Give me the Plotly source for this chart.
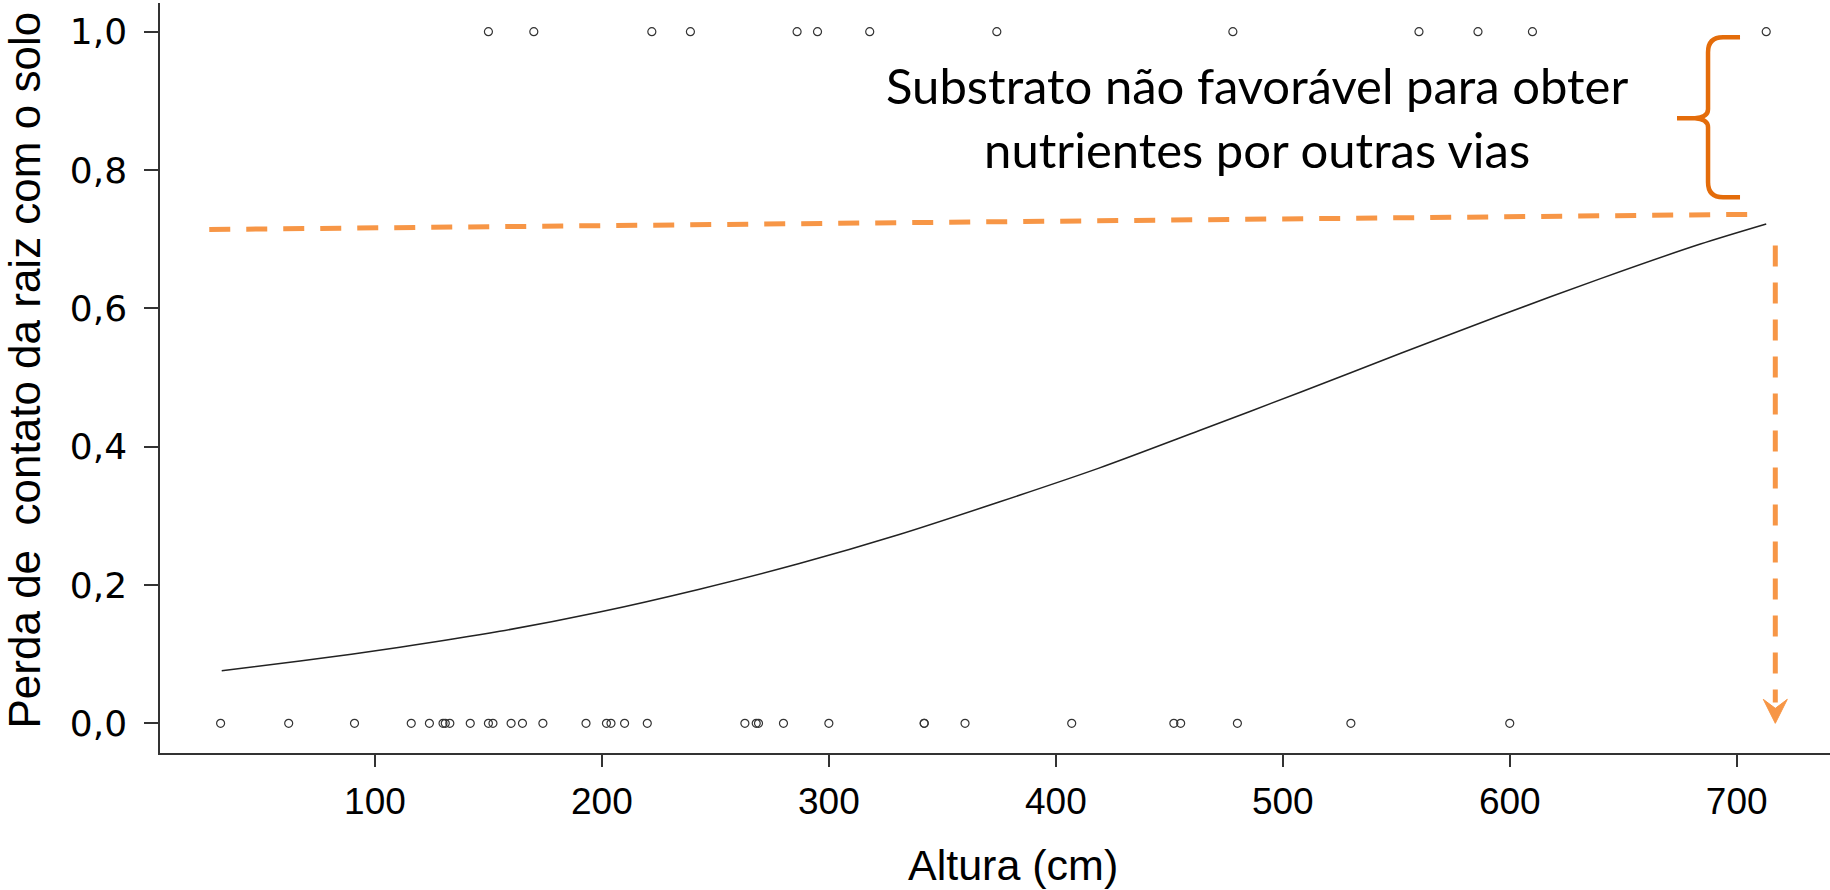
import plotly.graph_objects as go

# Heights (cm) of plants that lost root contact with the soil (1) and kept it (0)
altura_perda = [150, 170, 222, 239, 286, 295, 318, 374, 478, 560, 586, 610, 713]
altura_contato = [32, 62, 91, 116, 124, 130, 131, 133, 142, 150, 152, 160, 165, 174,
                  193, 202, 204, 210, 220, 263, 268, 269, 280, 300, 342, 342, 360,
                  407, 452, 455, 480, 530, 600]

# Fitted probability of losing root contact along height
curva_x = [32.5, 67, 111, 155, 199, 243, 287, 331, 375, 419, 463, 508, 552, 596, 640, 684, 713]
curva_y = [0.076, 0.090, 0.110, 0.133, 0.161, 0.194, 0.231, 0.273, 0.320, 0.369,
           0.423, 0.479, 0.535, 0.590, 0.643, 0.693, 0.722]

# Threshold guide and the drop to the height axis
limiar_x = [27, 709]
limiar_y = [0.714, 0.736]
queda_x = [717, 717]
queda_y = [0.691, 0.03]

x_ticks = [100, 200, 300, 400, 500, 600, 700]
y_ticks = [0.0, 0.2, 0.4, 0.6, 0.8, 1.0]

LARANJA = "#F79646"
CHAVE = "#E46C0A"
TINTA = "#222222"

fig = go.Figure()

fig.add_trace(go.Scatter(
    x=curva_x, y=curva_y, mode="lines",
    line=dict(color=TINTA, width=1.5, shape="spline", smoothing=0.8),
    hoverinfo="skip"))

fig.add_trace(go.Scatter(
    x=altura_perda + altura_contato,
    y=[1] * len(altura_perda) + [0] * len(altura_contato),
    mode="markers",
    marker=dict(symbol="circle-open", size=8, color="#333333", line=dict(width=1.2))))

fig.add_trace(go.Scatter(
    x=limiar_x, y=limiar_y, mode="lines",
    line=dict(color=LARANJA, width=5, dash="21px,16px")))

fig.add_trace(go.Scatter(
    x=queda_x, y=queda_y, mode="lines",
    line=dict(color=LARANJA, width=5, dash="21px,16px")))

# Arrowhead at the bottom of the drop line
fig.add_shape(type="path", xref="x", yref="y",
              xsizemode="pixel", ysizemode="pixel",
              xanchor=queda_x[1], yanchor=0,
              path="M 0,0 L -12,24 L 0,15 L 12,24 Z",
              fillcolor=LARANJA, line=dict(color=LARANJA, width=1))

# Curly brace marking the upper band
fig.add_shape(type="path", xref="x", yref="y",
              xsizemode="pixel", ysizemode="pixel",
              xanchor=673.7, yanchor=0.875,
              path=("M 63,81 L 46,81 Q 31,81 31,66 L 31,9 Q 31,1 18,0 L 0,0 "
                    "M 18,0 Q 31,-1 31,-9 L 31,-64 Q 31,-79 46,-79 L 63,-79"),
              line=dict(color=CHAVE, width=4.5))

fig.add_annotation(
    x=488.6, y=0.877, xref="x", yref="y",
    text="Substrato não favorável para obter<br>nutrientes por outras vias",
    showarrow=False, xanchor="center", yanchor="middle",
    font=dict(family="Lato", size=49, color="#000000"))

fig.add_annotation(
    x=0, y=0.51, xref="paper", yref="paper", xshift=-136,
    text="Perda de  contato da raiz com o solo", textangle=-90,
    showarrow=False, xanchor="center", yanchor="middle",
    font=dict(family="Liberation Sans", size=44, color="#000000"))

fig.add_annotation(
    x=0.511, y=0, xref="paper", yref="paper", yshift=-112,
    text="Altura (cm)",
    showarrow=False, xanchor="center", yanchor="middle",
    font=dict(family="Liberation Sans", size=43, color="#000000"))

fig.update_layout(
    width=1830, height=890,
    margin=dict(l=160, r=0, t=3, b=137),
    paper_bgcolor="white", plot_bgcolor="white",
    showlegend=False, separators=", ",
    xaxis=dict(
        range=[5.3, 741.1], showgrid=False, zeroline=False,
        showline=True, linecolor="#333333", linewidth=2,
        ticks="outside", ticklen=12, tickwidth=1.5, tickcolor="#333333",
        tickvals=x_ticks, ticklabelstandoff=3,
        tickfont=dict(family="Liberation Sans", size=37, color="#000000")),
    yaxis=dict(
        range=[-0.0429, 1.0415], showgrid=False, zeroline=False,
        showline=True, linecolor="#333333", linewidth=1.5,
        ticks="outside", ticklen=14, tickwidth=1.5, tickcolor="#333333",
        tickvals=y_ticks, tickformat=".1f", ticklabelstandoff=10,
        tickfont=dict(family="DejaVu Sans", size=36, color="#000000")),
)

fig.write_html("out.html")
